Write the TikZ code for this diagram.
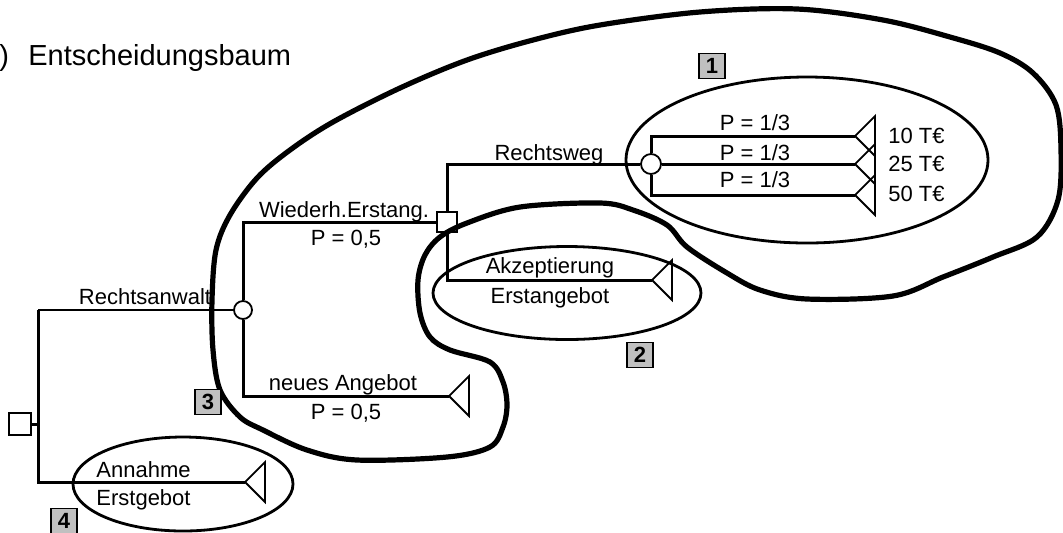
\documentclass[tikz,border=0pt]{standalone}
\usepackage{fontspec}
\setmainfont{Liberation Sans}
\usetikzlibrary{shapes.geometric}
\definecolor{boxgray}{HTML}{C0C0C0}

\begin{document}
\begin{tikzpicture}[x=0.5pt,y=-0.5pt,
  lbl/.style={font=\fontsize{11pt}{13pt}\selectfont,inner sep=0pt},
  branch/.style={line width=1.5pt},
  payoff/.style={line width=0.9pt,line join=miter},
  decision/.style={rectangle,draw,fill=white,minimum size=10pt,inner sep=0pt,line width=0.9pt},
  chance/.style={circle,draw,fill=white,minimum size=9pt,inner sep=0pt,line width=0.9pt},
  ring/.style={ellipse,draw,inner sep=0pt,line width=1.4pt},
  numbox/.style={rectangle,draw,fill=boxgray,minimum width=13pt,minimum height=12.5pt,inner sep=0pt,line width=0.8pt,font=\fontsize{11pt}{13pt}\selectfont\bfseries},
  blob/.style={line width=2.6pt,line join=round}]
\useasboundingbox (0,0) rectangle (1063,532);
\node[anchor=base west,font=\fontsize{14.5pt}{17pt}\selectfont,inner sep=0pt] (bracket) at (-1,65) {)};
\node[anchor=base west,font=\fontsize{14.5pt}{17pt}\selectfont,inner sep=0pt] (title) at (28,65) {Entscheidungsbaum};
% positions of the tree
\coordinate (r) at (38,424);
\coordinate (t1) at (245,482);
\coordinate (t2) at (449,396);
\coordinate (t3) at (652,280);
\coordinate (t4) at (855,136);
\coordinate (t5) at (855,164);
\coordinate (t6) at (855,195);
\node[decision,minimum size=11pt] (d1) at (20,424) {};
\node[chance] (c1) at (243,310) {};
\node[decision] (d2) at (447,222) {};
\node[chance,minimum size=10pt] (c2) at (651,164) {};
% branches
\draw[branch] (d1.east) -- (r);
\draw[branch] (c1 -| r) -- (t1 -| r) -- (t1);
\draw[branch,line width=1pt] (c1 -| r) -- (c1.west);
\draw[branch] (d2.west) -- (d2 -| c1) -- (c1.north);
\draw[branch] (c1.south) -- (t2 -| c1) -- (t2);
\draw[branch] (c2.west) -- (c2 -| d2) -- (d2.north);
\draw[branch] (d2.south) -- (t3 -| d2) -- (t3);
\draw[branch] (c2.north) -- (t4 -| c2) -- (t4);
\draw[branch] (c2.east) -- (t5);
\draw[branch] (c2.south) -- (t6 -| c2) -- (t6);
\foreach \t in {t1,t2,t3,t4,t5,t6}
  \draw[payoff] (\t) -- ++(20,-20) -- ++(0,40) -- cycle;
% labels
\node[lbl,anchor=base] (l1) at (145,304) {Rechtsanwalt};
\node[lbl,anchor=base west] (l2) at (96,477) {Annahme};
\node[lbl,anchor=base west] (l3) at (96,505) {Erstgebot};
\node[lbl,anchor=base] (l4) at (344,217) {Wiederh.Erstang.};
\node[lbl,anchor=base] (l5) at (346,245) {P = 0,5};
\node[lbl,anchor=base] (l6) at (343,390) {neues Angebot};
\node[lbl,anchor=base] (l7) at (346,419) {P = 0,5};
\node[lbl,anchor=base] (l8) at (550,273) {Akzeptierung};
\node[lbl,anchor=base] (l9) at (550,303) {Erstangebot};
\node[lbl,anchor=base] (l10) at (549,160) {Rechtsweg};
\node[lbl,anchor=base] (p1) at (755,130) {P = 1/3};
\node[lbl,anchor=base] (p2) at (755,160) {P = 1/3};
\node[lbl,anchor=base] (p3) at (755,187) {P = 1/3};
\node[lbl,anchor=base west] (v1) at (888,143) {10 T€};
\node[lbl,anchor=base west] (v2) at (888,171) {25 T€};
\node[lbl,anchor=base west] (v3) at (888,201) {50 T€};
% groupings
\node[ring,minimum width=181pt,minimum height=83pt] (e1) at (807,160) {};
\node[ring,minimum width=134pt,minimum height=46.5pt] (e2) at (567,293) {};
\node[ring,minimum width=110pt,minimum height=47pt] (e3) at (183,484) {};
\draw[blob] plot[smooth cycle,tension=0.55] coordinates {
  (212,300) (216,250) (230,215) (257,178) (290,150) (333,122) (400,88)
  (467,60) (533,40) (600,25) (700,12) (797,9) (883,20) (950,37)
  (1000,53) (1033,73) (1056,105) (1061,150) (1058,200) (1037,237)
  (993,257) (943,277) (893,296) (807,299) (760,290) (727,273) (687,247)
  (667,225) (633,210) (600,203) (520,207) (467,223) (440,237) (425,255)
  (418,280) (420,313) (430,337) (450,350) (490,362) (503,382) (507,405)
  (503,427) (490,447) (447,457) (357,460) (307,450) (263,430) (240,417)
  (220,390) (213,350)};
\node[numbox] (n1) at (712,66) {1};
\node[numbox] (n2) at (640,355) {2};
\node[numbox] (n3) at (208,402) {3};
\node[numbox] (n4) at (64,521) {4};
\end{tikzpicture}
\end{document}
